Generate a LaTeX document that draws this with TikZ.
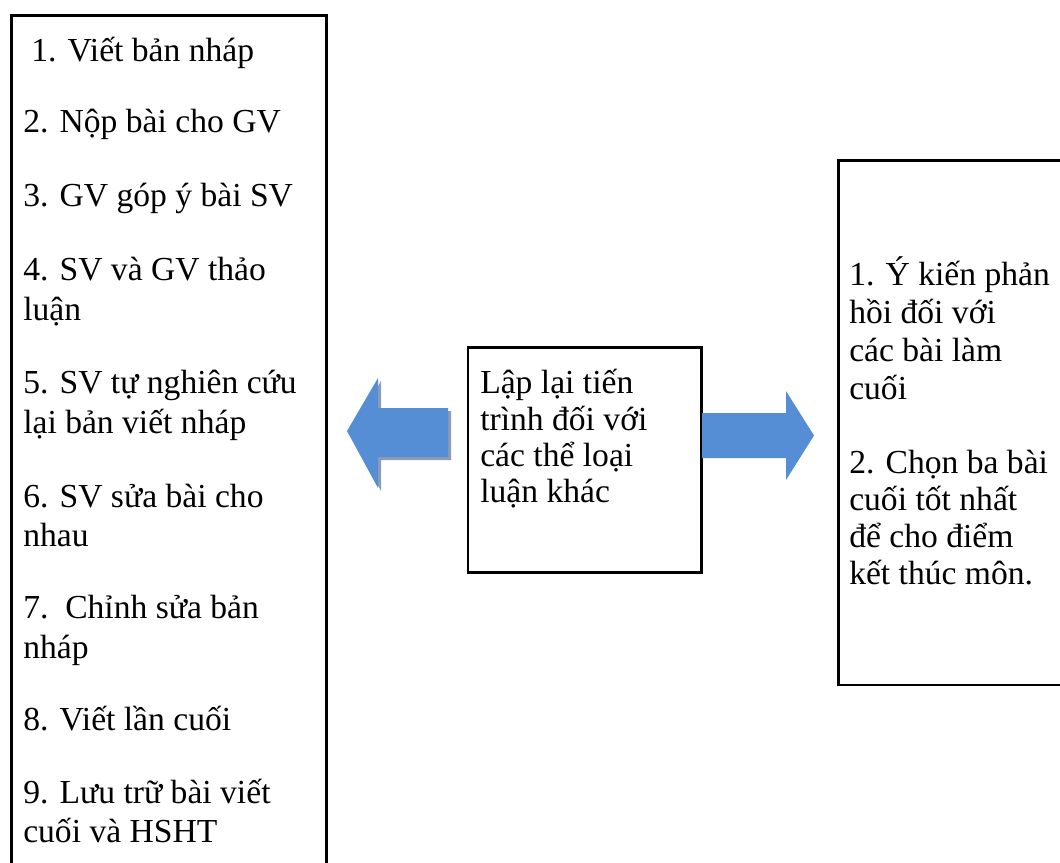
\documentclass[tikz,border=0pt]{standalone}
\usepackage{fontspec}
\setmainfont{Liberation Serif}
\definecolor{arrowblue}{RGB}{85,142,213}
\definecolor{arrowshade}{RGB}{140,156,180}
\newcommand{\bodyfont}{\fontsize{25.2}{30}\selectfont}
\tikzset{
  frame/.style={draw=black, line width=2.2pt, fill=white, anchor=north west, inner sep=0pt},
  line/.style={anchor=base west, inner sep=0pt, font=\bodyfont},
  arrowbody/.style={fill=arrowblue, draw=none},
  arrowshadow/.style={fill=arrowshade, draw=none}
}
\begin{document}
\begin{tikzpicture}[x=0.75pt,y=-0.75pt]
\clip (0,0) rectangle (1060,863);
\fill[white] (0,0) rectangle (1060,863);

% frames
\node (steps)  [frame, minimum width=236.6pt, minimum height=660pt] at (10,14) {};
\node (repeat) [frame, minimum width=175.1pt, minimum height=168.75pt] at (466.5,346) {};
\node (final)  [frame, minimum width=190pt, minimum height=393pt] at (837,159.5) {};

% left arrow with drop shadow
\fill[arrowshadow, shift={(3,3)}] (347,431) -- (378,378) -- (378,408) -- (448,408)
  -- (448,457) -- (378,457) -- (378,488) -- cycle;
\fill[arrowbody] (347,431) -- (378,378) -- (378,408) -- (448,408)
  -- (448,457) -- (378,457) -- (378,488) -- cycle;

% right arrow
\fill[arrowbody] (814,435.5) -- (786,391) -- (786,413) -- (702,413)
  -- (702,458) -- (786,458) -- (786,480) -- cycle;

% steps of the writing process
\node (s1)  [line] at (31,62)  {1. Viết bản nháp};
\node (s2)  [line] at (23,133) {2. Nộp bài cho GV};
\node (s3)  [line] at (23,206) {3. GV góp ý bài SV};
\node (s4a) [line] at (23,280) {4. SV và GV thảo};
\node (s4b) [line] at (23,320) {luận};
\node (s5a) [line] at (23,393) {5. SV tự nghiên cứu};
\node (s5b) [line] at (23,433) {lại bản viết nháp};
\node (s6a) [line] at (23,507) {6. SV sửa bài cho};
\node (s6b) [line] at (23,546) {nhau};
\node (s7a) [line] at (23,618) {7.\ \ Chỉnh sửa bản};
\node (s7b) [line] at (23,658) {nháp};
\node (s8)  [line] at (23,730) {8. Viết lần cuối};
\node (s9a) [line] at (23,803) {9. Lưu trữ bài viết};
\node (s9b) [line] at (23,842) {cuối và HSHT};

% middle box
\node (r1) [line] at (480,393) {Lập lại tiến};
\node (r2) [line] at (480,430) {trình đối với};
\node (r3) [line] at (480,466) {các thể loại};
\node (r4) [line] at (480,502) {luận khác};

% right box
\node (f1) [line] at (849,285) {1. Ý kiến phản};
\node (f2) [line] at (849,323) {hồi đối với};
\node (f3) [line] at (849,361) {các bài làm};
\node (f4) [line] at (849,399) {cuối};
\node (f5) [line] at (849,473) {2. Chọn ba bài};
\node (f6) [line] at (849,510) {cuối tốt nhất};
\node (f7) [line] at (849,547) {để cho điểm};
\node (f8) [line] at (849,584) {kết thúc môn.};
\end{tikzpicture}
\end{document}
